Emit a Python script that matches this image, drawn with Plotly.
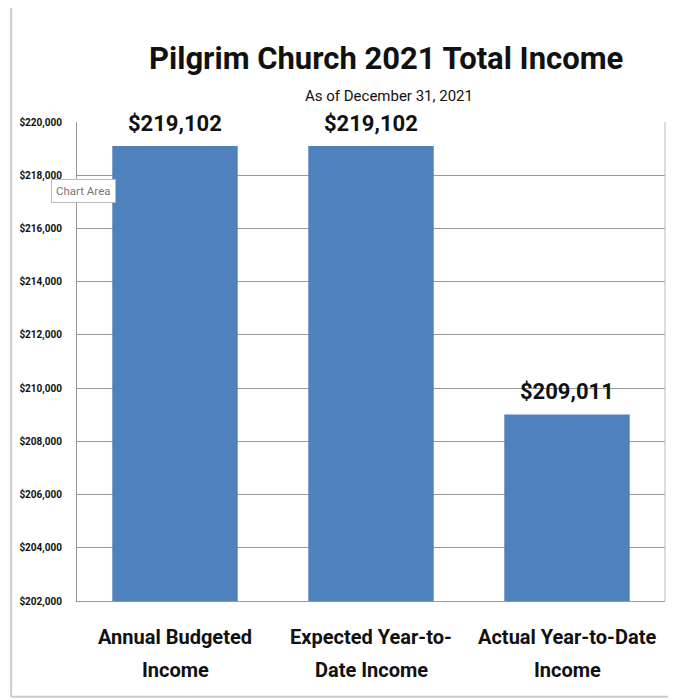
import plotly.graph_objects as go

categories = ["Annual Budgeted<br>Income", "Expected Year-to-<br>Date Income", "Actual Year-to-Date<br>Income"]
values = [219102, 219102, 209011]
value_labels = ["$219,102", "$219,102", "$209,011"]
tick_vals = list(range(202000, 220001, 2000))
tick_text = [f"${v:,}" for v in tick_vals]

FONT = "Roboto, Arial, sans-serif"

fig = go.Figure()
fig.add_trace(go.Bar(
    x=categories, y=values,
    marker=dict(color="#4F81BD", line=dict(width=0)),
    width=0.64,
    hoverinfo="skip",
))

for c, v, t in zip(categories, values, value_labels):
    fig.add_annotation(x=c, y=v, text=f"<b>{t}</b>", showarrow=False,
                       yanchor="bottom", yshift=8,
                       font=dict(family=FONT, size=22, color="#111111"))

# category labels, one annotation per line for wider line spacing
for c in categories:
    for i, line in enumerate(c.split("<br>")):
        fig.add_annotation(x=c, xref="x", yref="paper", y=0, yanchor="middle",
                           yshift=-36 - 33 * i, text=f"<b>{line}</b>", showarrow=False,
                           font=dict(family=FONT, size=20, color="#111111"))

fig.add_annotation(xref="paper", yref="paper", x=0.5, y=1.0, yanchor="bottom", yshift=43, xshift=15,
                   text="<b>Pilgrim Church 2021 Total Income</b>", showarrow=False,
                   font=dict(family=FONT, size=31, color="#111111"))
fig.add_annotation(xref="paper", yref="paper", x=0.5, y=1.0, yanchor="bottom", yshift=15, xshift=18,
                   text="As of December 31, 2021", showarrow=False,
                   font=dict(family=FONT, size=15, color="#111111"))

# Chart Area tooltip
fig.add_annotation(xref="paper", yref="paper", x=-0.045, y=0.855, xanchor="left", yanchor="middle",
                   text="Chart Area", showarrow=False, bgcolor="white",
                   bordercolor="#BBBBBB", borderwidth=1, borderpad=4,
                   font=dict(family=FONT, size=11.5, color="#777777"))

# outer chart frame
fig.add_shape(type="line", xref="paper", yref="paper", x0=-0.112, x1=-0.112, y0=-0.2, y1=1.3,
              line=dict(color="#CCCCCC", width=2))
fig.add_shape(type="line", xref="paper", yref="paper", x0=-0.112, x1=1.02, y0=-0.2, y1=-0.2,
              line=dict(color="#CCCCCC", width=2))
fig.add_shape(type="line", xref="paper", yref="paper", x0=1, x1=1, y0=0, y1=1,
              line=dict(color="#BBBBBB", width=1))

fig.update_layout(
    width=668, height=692,
    paper_bgcolor="white", plot_bgcolor="white",
    margin=dict(l=67, r=11, t=114, b=99),
    showlegend=False,
    bargap=0.36,
    xaxis=dict(showgrid=False, showline=True, linecolor="#999999", linewidth=1,
               ticks="", showticklabels=False),
    yaxis=dict(range=[202000, 220000], tickvals=tick_vals, ticktext=tick_text,
               showgrid=True, gridcolor="#999999", gridwidth=1,
               showline=True, linecolor="#999999", linewidth=1, zeroline=False,
               ticks="", ticklabelstandoff=12,
               tickfont=dict(family=FONT, size=10, weight="bold", color="#111111")),
)

fig.write_html("out.html")
